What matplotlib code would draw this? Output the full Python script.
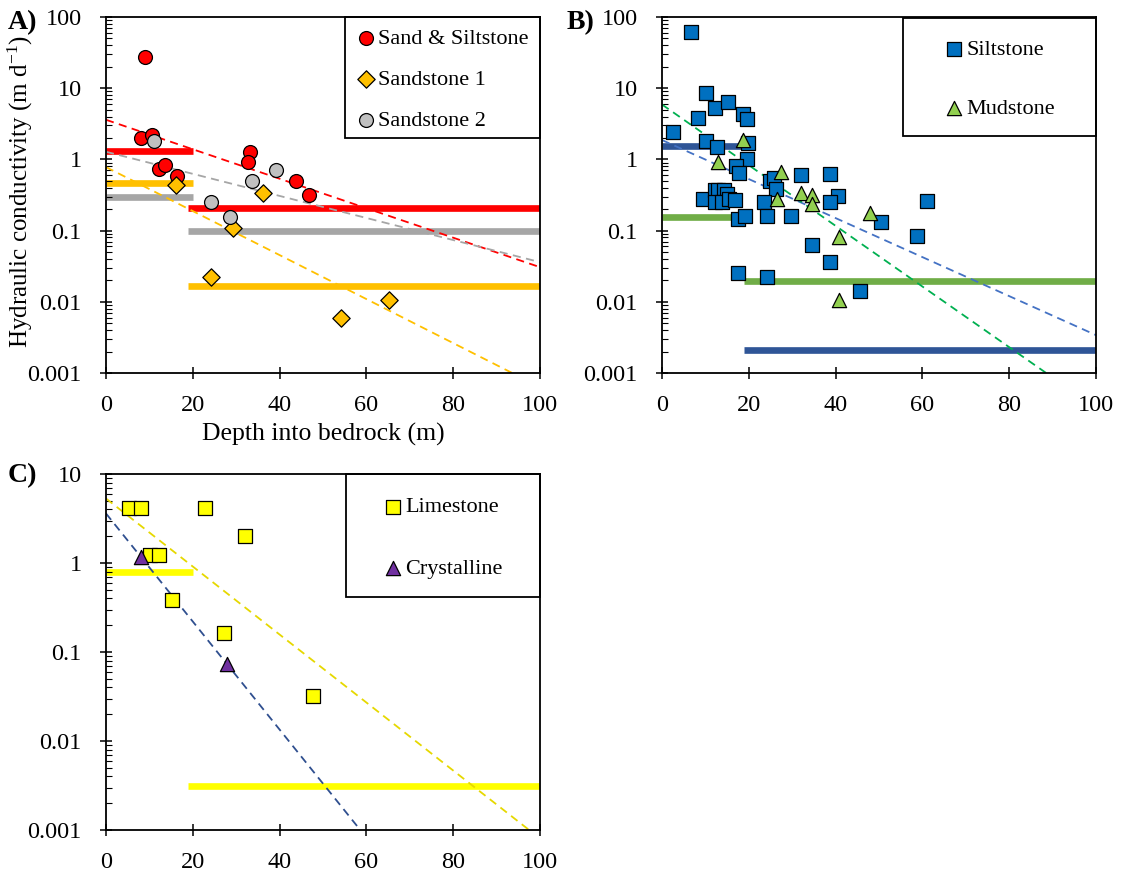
import numpy as np
import matplotlib
matplotlib.use('Agg')
import matplotlib.pyplot as plt
from matplotlib.patches import Rectangle
from matplotlib.ticker import LogLocator, FuncFormatter, NullFormatter

plt.rcParams['font.family'] = ['Liberation Serif', 'DejaVu Serif']
plt.rcParams['mathtext.default'] = 'regular'

# ---- panel A ----
sand_silt_x = [9.0, 8.0, 10.5, 12.1, 13.6, 16.3, 33.2, 32.8, 43.8, 46.8]
sand_silt_k = [27, 2.0, 2.2, 0.73, 0.83, 0.59, 1.26, 0.93, 0.49, 0.32]
sst1_x = [16.1, 36.1, 29.2, 24.3, 54.1, 65.1]
sst1_k = [0.44, 0.34, 0.11, 0.0225, 0.006, 0.0106]
sst2_x = [11.1, 33.6, 39.2, 24.2, 28.6]
sst2_k = [1.83, 0.50, 0.70, 0.25, 0.157]

# ---- panel B ----
silt_x = [6.7, 2.6, 8.2, 10.1, 12.3, 15.3, 18.6, 19.5, 10.1, 12.6, 19.9, 19.5,
          17.1, 17.8, 24.9, 25.8, 26.3, 32.0, 38.7, 40.5, 38.7, 61.0, 9.5, 12.2,
          13.0, 14.3, 14.9, 12.2, 13.8, 15.5, 16.8, 23.5, 24.3, 29.8, 17.4, 19.1,
          50.5, 34.6, 58.7, 38.7, 17.6, 24.3, 45.6]
silt_k = [62, 2.45, 3.8, 8.6, 5.2, 6.5, 4.4, 3.7, 1.8, 1.5, 1.7, 1.0,
          0.82, 0.64, 0.49, 0.54, 0.39, 0.60, 0.62, 0.31, 0.25, 0.26, 0.28, 0.37,
          0.37, 0.37, 0.33, 0.25, 0.25, 0.275, 0.27, 0.25, 0.16, 0.16, 0.145, 0.16,
          0.133, 0.063, 0.085, 0.036, 0.025, 0.0225, 0.0142]
mud_x = [18.6, 13.0, 27.5, 26.6, 32.0, 34.6, 34.6, 40.8, 47.9, 40.8]
mud_k = [1.87, 0.91, 0.67, 0.28, 0.34, 0.32, 0.24, 0.082, 0.175, 0.0106]

# ---- panel C ----
lime_x = [5.4, 8.1, 22.8, 32.0, 10.1, 12.1, 15.1, 27.3, 47.8]
lime_k = [4.2, 4.2, 4.2, 2.03, 1.23, 1.23, 0.38, 0.162, 0.032]
cryst_x = [8.0, 27.8]
cryst_k = [1.16, 0.073]

# depth intervals for the geometric means (shallow, deep)
shallow = (0, 20)
deep = (19, 100)
sand_silt_mean = [1.31, 0.21]
sst1_mean = [0.46, 0.0168]
sst2_mean = [0.30, 0.10]
silt_mean = [1.54, 0.0021]
mud_mean = [0.157, 0.0198]
lime_mean = [0.785, 0.0031]

# exponential trends: K = K0 * 10**(b * depth)
sand_silt_fit = (3.6, -0.0207)
sst1_fit = (0.78, -0.0309)
sst2_fit = (1.28, -0.0155)
silt_fit = (1.87, -0.0274)
mud_fit = (5.9, -0.0426)
lime_fit = (5.3, -0.0382)
cryst_fit = (3.6, -0.0607)

RED = '#FF0000'
ORANGE = '#FFC000'
GREY = '#A6A6A6'
GREY_PT = '#C0C0C0'
BLUE = '#0070C0'
NAVY = '#2F5597'
GREEN = '#70AD47'
LGREEN = '#92D050'
YELLOW = '#FFFF00'
PURPLE = '#7030A0'

fig = plt.figure(figsize=(11.21, 8.75), dpi=100)
W, H = 1121, 875
def axes_px(l, t, r, b):
    return fig.add_axes([l / W, 1 - b / H, (r - l) / W, (b - t) / H])

axA = axes_px(106, 17, 540, 373)
axB = axes_px(662, 17, 1096, 373)
axC = axes_px(106, 474, 540, 830)


def style(ax, ymin, ymax):
    ax.set_yscale('log')
    ax.set_ylim(ymin, ymax)
    ax.set_xlim(0, 100)
    ax.set_xticks(range(0, 101, 20))
    ax.yaxis.set_major_locator(LogLocator(base=10, numticks=10))
    ax.yaxis.set_minor_locator(LogLocator(base=10, subs=np.arange(2, 10), numticks=10))
    ax.yaxis.set_major_formatter(FuncFormatter(lambda v, p: f'{v:g}'))
    ax.yaxis.set_minor_formatter(NullFormatter())
    ax.tick_params(which='major', direction='inout', length=9, width=1.1,
                   labelsize=17.5, color='black')
    ax.tick_params(axis='y', which='minor', direction='in', length=4, width=0.8)
    ax.tick_params(axis='x', pad=11)
    ax.tick_params(axis='y', pad=13)
    for s in ax.spines.values():
        s.set_linewidth(1.3)
        s.set_color('black')


def means(ax, vals, color):
    for (x0, x1), v in zip([shallow, deep], vals):
        ax.plot([x0, x1], [v, v], color=color, lw=4.8, solid_capstyle='butt', zorder=1)


def trend(ax, fit, color):
    x = np.array([0.0, 100.0])
    ax.plot(x, fit[0] * 10 ** (fit[1] * x), color=color, lw=1.3,
            dashes=(4.5, 3), zorder=2)


def legend_box(ax, handles, labels, rect, anchor, spacing):
    ax.add_patch(Rectangle(rect[:2], rect[2], rect[3], transform=ax.transAxes,
                           fill=False, ec='black', lw=1.3, zorder=5, clip_on=False))
    ax.legend(handles, labels, loc='upper left', bbox_to_anchor=anchor,
              frameon=False, fontsize=16, borderpad=0, borderaxespad=0,
              handlelength=0.8, handletextpad=0.15, labelspacing=spacing)


pt = dict(edgecolors='black', linewidths=0.9, zorder=3)

# A
style(axA, 0.001, 100)
means(axA, sand_silt_mean, RED)
means(axA, sst1_mean, ORANGE)
means(axA, sst2_mean, GREY)
trend(axA, sand_silt_fit, RED)
trend(axA, sst1_fit, ORANGE)
trend(axA, sst2_fit, GREY)
hA1 = axA.scatter(sand_silt_x, sand_silt_k, s=100, marker='o', c=RED, **pt)
hA2 = axA.scatter(sst1_x, sst1_k, s=78, marker='D', c=ORANGE, **pt)
hA3 = axA.scatter(sst2_x, sst2_k, s=100, marker='o', c=GREY_PT, **pt)
legend_box(axA, [hA1, hA2, hA3], ['Sand & Siltstone', 'Sandstone 1', 'Sandstone 2'],
           (0.551, 0.660, 0.449, 0.340), (0.578, 0.969), 0.93)
axA.set_xlabel('Depth into bedrock (m)', fontsize=18.5, labelpad=5)
axA.set_ylabel('Hydraulic conductivity (m d$^{-1}$)', fontsize=18)
axA.yaxis.label.set_verticalalignment('center')
axA.yaxis.set_label_coords(-0.198, 0.51)

# B
style(axB, 0.001, 100)
means(axB, silt_mean, NAVY)
means(axB, mud_mean, GREEN)
trend(axB, silt_fit, '#4472C4')
trend(axB, mud_fit, '#00B050')
hB1 = axB.scatter(silt_x, silt_k, s=115, marker='s', c=BLUE, **pt)
hB2 = axB.scatter(mud_x, mud_k, s=105, marker='^', c=LGREEN, **pt)
legend_box(axB, [hB1, hB2], ['Siltstone', 'Mudstone'],
           (0.555, 0.666, 0.445, 0.331), (0.653, 0.937), 1.73)

# C
style(axC, 0.001, 10)
means(axC, lime_mean, YELLOW)
trend(axC, lime_fit, '#E6D800')
trend(axC, cryst_fit, '#2F4F8F')
hC1 = axC.scatter(lime_x, lime_k, s=115, marker='s', c=YELLOW, **pt)
hC2 = axC.scatter(cryst_x, cryst_k, s=105, marker='^', c=PURPLE, **pt)
legend_box(axC, [hC1, hC2], ['Limestone', 'Crystalline'],
           (0.553, 0.654, 0.447, 0.346), (0.641, 0.936), 1.83)

for lab, x, y in [('A)', 8, 29), ('B)', 567, 29), ('C)', 8, 482)]:
    fig.text(x / W, 1 - y / H, lab, fontsize=20, fontweight='bold',
             ha='left', va='baseline')

fig.savefig('out.png', dpi=100)
